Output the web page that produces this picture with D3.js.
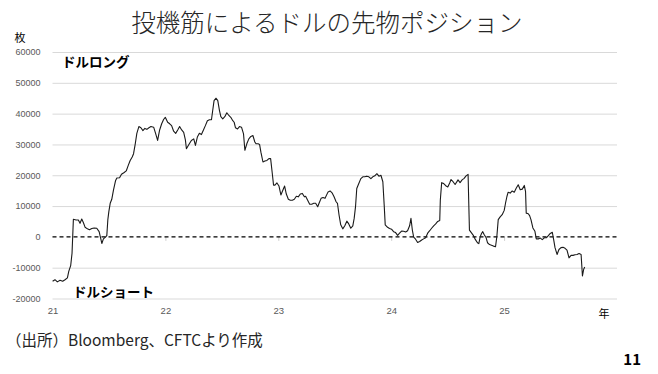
<!DOCTYPE html>
<html>
<head>
<meta charset="utf-8">
<title>投機筋によるドルの先物ポジション</title>
<script src="https://d3js.org/d3.v7.min.js"></script>
<style>
  body { margin: 0; background: #fff; }
  svg { display: block; font-family: "Noto Sans CJK JP", "Noto Sans", sans-serif; }
  .tick-y text { font-family: "Liberation Sans Narrow", "Liberation Sans", sans-serif; fill: #595959; font-size: 9px; }
  .tick-x text { font-family: "Liberation Sans Narrow", "Liberation Sans", sans-serif; fill: #595959; font-size: 9.5px; }
</style>
</head>
<body>
<svg id="chart" width="658" height="374"></svg>

<script>
// year position (21 = start of 2021)
const yearPos = [
  21.001, 21.022, 21.043, 21.067, 21.090, 21.111, 21.132, 21.144, 21.161, 21.173,
  21.185, 21.209, 21.229, 21.244, 21.259, 21.274, 21.289, 21.309, 21.327, 21.348,
  21.369, 21.392, 21.413, 21.428, 21.437, 21.451, 21.469, 21.481, 21.490, 21.499,
  21.511, 21.525, 21.540, 21.558, 21.570, 21.594, 21.611, 21.635, 21.653, 21.671,
  21.688, 21.706, 21.718, 21.733, 21.747, 21.765, 21.783, 21.801, 21.818, 21.836,
  21.854, 21.872, 21.896, 21.913, 21.931, 21.949, 21.967, 21.984, 21.999, 22.020,
  22.038, 22.055, 22.073, 22.091, 22.109, 22.126, 22.144, 22.162, 22.177, 22.186,
  22.212, 22.230, 22.251, 22.266, 22.283, 22.301, 22.319, 22.337, 22.354, 22.372,
  22.390, 22.408, 22.419, 22.431, 22.449, 22.464, 22.479, 22.491, 22.508, 22.526,
  22.544, 22.562, 22.579, 22.597, 22.609, 22.621, 22.639, 22.656, 22.674, 22.692,
  22.704, 22.721, 22.739, 22.757, 22.775, 22.792, 22.804, 22.822, 22.834, 22.846,
  22.864, 22.881, 22.899, 22.917, 22.932, 22.946, 22.958, 22.970, 22.988, 23.006,
  23.023, 23.041, 23.056, 23.071, 23.089, 23.106, 23.124, 23.142, 23.160, 23.177,
  23.195, 23.213, 23.231, 23.242, 23.260, 23.278, 23.296, 23.314, 23.331, 23.349,
  23.361, 23.379, 23.396, 23.414, 23.441, 23.459, 23.476, 23.494, 23.512, 23.524,
  23.538, 23.553, 23.571, 23.589, 23.607, 23.624, 23.642, 23.660, 23.672, 23.684,
  23.695, 23.713, 23.731, 23.749, 23.766, 23.784, 23.802, 23.820, 23.837, 23.855,
  23.873, 23.891, 23.909, 23.926, 23.938, 23.947, 23.968, 23.985, 24.003, 24.021,
  24.039, 24.057, 24.074, 24.092, 24.110, 24.128, 24.145, 24.163, 24.175, 24.187,
  24.199, 24.216, 24.234, 24.252, 24.270, 24.287, 24.305, 24.323, 24.341, 24.358,
  24.376, 24.394, 24.412, 24.430, 24.435, 24.447, 24.465, 24.483, 24.501, 24.518,
  24.530, 24.548, 24.566, 24.592, 24.610, 24.628, 24.646, 24.663, 24.681, 24.687,
  24.693, 24.711, 24.729, 24.746, 24.764, 24.776, 24.788, 24.800, 24.811, 24.823,
  24.841, 24.853, 24.871, 24.888, 24.906, 24.924, 24.936, 24.948, 24.965, 24.983,
  25.001, 25.013, 25.025, 25.036, 25.054, 25.072, 25.090, 25.107, 25.125, 25.143,
  25.161, 25.179, 25.190, 25.196, 25.214, 25.226, 25.238, 25.255, 25.273, 25.285,
  25.303, 25.321, 25.338, 25.356, 25.374, 25.392, 25.409, 25.427, 25.439, 25.451,
  25.469, 25.486, 25.504, 25.522, 25.540, 25.557, 25.575, 25.593, 25.611, 25.628,
  25.646, 25.664, 25.682, 25.694, 25.705, 25.714
];

// net position (contracts)
const position = [
  -14400, -13900, -14600, -14100, -14400, -13900, -13300, -11200, -9350, -5300,
  5700, 5500, 5500, 4400, 5800, 4600, 3100, 2600, 2300, 2700,
  2900, 2800, 1700, -650, -2150, -650, -100, 400, 5500, 8200,
  10900, 12200, 15200, 18200, 19100, 19200, 20300, 20900, 21400, 23200,
  24800, 25900, 27000, 30200, 33600, 35800, 35400, 34500, 35200, 34900,
  35400, 35800, 35600, 33600, 31300, 34700, 36700, 38100, 38800, 37200,
  36700, 36100, 34300, 33600, 34700, 35800, 34700, 33900, 31500, 28600,
  30200, 31300, 31800, 29700, 32400, 33600, 33200, 34700, 36100, 37700,
  38000, 38000, 41000, 44200, 45000, 44200, 41000, 39000, 38300, 39000,
  40300, 39400, 38800, 37700, 37200, 35400, 35000, 35800, 35600, 33400,
  28100, 30200, 31800, 32600, 32900, 30800, 30200, 30200, 30000, 27500,
  24300, 24600, 24800, 25400, 25400, 20800, 16800, 16800, 17500, 16500,
  13600, 15200, 16500, 13900, 12200, 11900, 11900, 12200, 13200, 13000,
  13900, 14100, 13000, 13200, 11900, 10600, 10600, 10900, 10900, 9800,
  10900, 12500, 12800, 12500, 14600, 14900, 14300, 13000, 11400, 10900,
  7100, 3900, 2600, 3600, 5100, 4200, 2800, 3600, 6000, 9800,
  15700, 17300, 18900, 19500, 19500, 19700, 19500, 18900, 19500, 19800,
  20500, 19700, 20000, 17900, 10300, 3900, 3100, 2700, 2500, 1700,
  1400, 500, 1200, 1900, 1800, 1600, 2000, 3600, 6000, 2300,
  -100, -750, -1800, -1500, -1000, -650, -300, 1200, 2000, 2800,
  3600, 4200, 5000, 5300, 11900, 17600, 17300, 16600, 16200, 17500,
  18600, 17900, 17000, 18500, 17600, 18500, 19000, 19800, 20300, 11000,
  2200, 1300, 400, -900, -1900, -2200, 0, 1100, 1700, 800,
  -300, -1900, -2500, -2700, -3000, -3200, 200, 5600, 6500, 7200,
  8600, 11000, 13100, 14500, 14200, 14900, 14500, 15800, 16900, 15300,
  15500, 16700, 14700, 7700, 7500, 6900, 5600, 2900, 1800, -650,
  -650, -400, -900, -300, -300, 400, 1100, 1500, -900, -3500,
  -5700, -4100, -3500, -3400, -3700, -4300, -6800, -6000, -6000, -5800,
  -5700, -5400, -5700, -12700, -10500, -9800
];

const yTicks = [-20000, -10000, 0, 10000, 20000, 30000, 40000, 50000, 60000];
const xTicks = [21, 22, 23, 24, 25];
const xTickLabels = ["21", "22", "23", "24", "25"];

const data = yearPos.map((t, i) => ({t: t, v: position[i]}));

const margin = {left: 52.5, right: 41, top: 52, bottom: 75.5};
const W = 658, H = 374;

const svg = d3.select("#chart");

const x = d3.scaleLinear()
    .domain([21, 26])
    .range([margin.left, W - margin.right]);

const y = d3.scaleLinear()
    .domain([-20000, 60000])
    .range([H - margin.bottom, margin.top]);

// gridlines
svg.append("g")
    .attr("transform", "translate(" + margin.left + ",0)")
    .call(d3.axisLeft(y).tickValues(yTicks.filter(d => d !== 0))
        .tickSize(-(x.range()[1] - margin.left)).tickFormat(""))
    .call(g => g.select(".domain").remove())
    .call(g => g.selectAll("line").attr("stroke", "#d9d9d9").attr("stroke-width", 1));

// y labels
svg.append("g")
    .attr("class", "tick-y")
    .attr("transform", "translate(" + margin.left + ",0)")
    .call(d3.axisLeft(y).tickValues(yTicks).tickSize(0).tickPadding(12)
        .tickFormat(d => d < 0 ? "-" + Math.abs(d) : d))
    .call(g => g.select(".domain").remove());

// small tick marks on the zero line
svg.append("g")
    .attr("transform", "translate(0," + y(0) + ")")
    .call(d3.axisBottom(x).tickValues(xTicks.slice(1)).tickSize(4).tickFormat(""))
    .call(g => g.select(".domain").remove())
    .call(g => g.selectAll("line").attr("stroke", "#d0d0d0"));

// x labels
svg.append("g")
    .attr("class", "tick-x")
    .attr("transform", "translate(0," + y(-20000) + ")")
    .call(d3.axisBottom(x).tickValues(xTicks).tickSize(0).tickPadding(9)
        .tickFormat((d, i) => xTickLabels[i]))
    .call(g => g.select(".domain").remove());

// dashed zero line
svg.append("line")
    .attr("x1", x.range()[0]).attr("x2", x.range()[1])
    .attr("y1", y(0)).attr("y2", y(0))
    .attr("stroke", "#000")
    .attr("stroke-width", 1.2)
    .attr("stroke-dasharray", "4,3");

const line = d3.line()
    .x(d => x(d.t))
    .y(d => y(d.v));

svg.append("path")
    .datum(data)
    .attr("d", line)
    .attr("fill", "none")
    .attr("stroke", "#1a1a1a")
    .attr("stroke-width", 1.1)
    .attr("stroke-linejoin", "round");

// texts
svg.append("text")
    .attr("x", 327).attr("y", 32)
    .attr("text-anchor", "middle")
    .attr("font-size", 24.5)
    .attr("font-weight", 300)
    .attr("fill", "#262626")
    .text("投機筋によるドルの先物ポジション");

svg.append("text")
    .attr("x", 20).attr("y", 42)
    .attr("text-anchor", "middle")
    .attr("font-size", 11)
    .text("枚");

svg.append("text")
    .attr("x", 62).attr("y", 67)
    .attr("font-size", 13.5)
    .attr("font-weight", "bold")
    .text("ドルロング");

svg.append("text")
    .attr("x", 73).attr("y", 297)
    .attr("font-size", 13.5)
    .attr("font-weight", "bold")
    .text("ドルショート");

svg.append("text")
    .attr("x", 604).attr("y", 318)
    .attr("text-anchor", "middle")
    .attr("font-size", 11)
    .text("年");

svg.append("text")
    .attr("x", 6).attr("y", 346)
    .attr("font-size", 15.5)
    .attr("fill", "#262626")
    .text("（出所）Bloomberg、CFTCより作成");

svg.append("text")
    .attr("x", 641).attr("y", 365)
    .attr("text-anchor", "end")
    .attr("font-size", 15)
    .attr("font-weight", "bold")
    .text("11");
</script>
</body>
</html>
